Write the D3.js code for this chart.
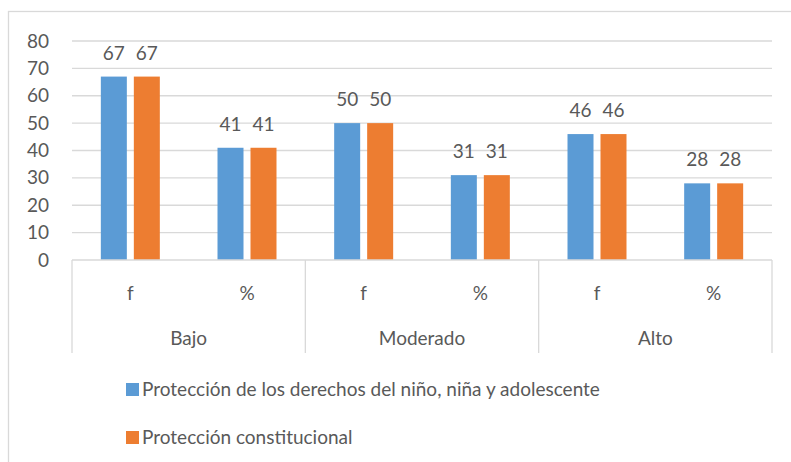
<!DOCTYPE html>
<html>
<head>
<meta charset="utf-8">
<script src="https://cdn.jsdelivr.net/npm/d3@7"></script>
<style>
  body { margin: 0; background: #fff; }
  svg text { font-family: Lato, "Open Sans", sans-serif; fill: #595959; }
</style>
</head>
<body>
<svg id="chart"></svg>
<script>
// data
const groups = ["Bajo", "Moderado", "Alto"];
const subs = ["f", "%"];
const seriesNames = ["Protección de los derechos del niño, niña y adolescente", "Protección constitucional"];
const derechos = [67, 41, 50, 31, 46, 28];      // f, % for each group
const constitucional = [67, 41, 50, 31, 46, 28];
const yTicks = [0, 10, 20, 30, 40, 50, 60, 70, 80];
const colors = ["#5b9bd5", "#ed7d31"];

const width = 791, height = 462;
const svg = d3.select("#chart").attr("width", width).attr("height", height);

// outer chart border (only top and left visible)
svg.append("rect")
    .attr("x", 8.5).attr("y", 11.5)
    .attr("width", 800).attr("height", 500)
    .attr("fill", "none").attr("stroke", "#d9d9d9").attr("stroke-width", 1.3);

const plot = { left: 72, right: 772, top: 41, bottom: 260 };

const y = d3.scaleLinear().domain([0, 80]).range([plot.bottom, plot.top]);
const x0 = d3.scaleBand().domain(groups).range([plot.left, plot.right]);
const x1 = d3.scaleBand().domain(subs).range([0, x0.bandwidth()]);
const x2 = d3.scaleBand().domain([0, 1]).range([0, x1.bandwidth()])
    .paddingInner(0.212).paddingOuter(0.874);

// gridlines
svg.append("g")
    .selectAll("line")
    .data(yTicks.filter(t => t > 0))
    .join("line")
    .attr("x1", plot.left).attr("x2", plot.right)
    .attr("y1", d => y(d)).attr("y2", d => y(d))
    .attr("stroke", "#d9d9d9").attr("stroke-width", 1.3);

// y axis labels
const yAxis = svg.append("g")
    .attr("transform", `translate(${plot.left},0)`)
    .call(d3.axisLeft(y).tickValues(yTicks).tickSize(0).tickPadding(23));
yAxis.select(".domain").remove();
yAxis.selectAll("text").style("font-size", "19px").attr("fill", "#595959");

// bars
const rows = [];
groups.forEach((g, gi) => {
    subs.forEach((s, si) => {
        const idx = gi * 2 + si;
        [derechos[idx], constitucional[idx]].forEach((v, k) => {
            rows.push({ g, s, k, v });
        });
    });
});

const bx = d => x0(d.g) + x1(d.s) + x2(d.k);

svg.append("g")
    .selectAll("rect")
    .data(rows)
    .join("rect")
    .attr("x", bx)
    .attr("y", d => y(d.v))
    .attr("width", x2.bandwidth())
    .attr("height", d => y(0) - y(d.v))
    .attr("fill", d => colors[d.k]);

// data labels
svg.append("g")
    .selectAll("text")
    .data(rows)
    .join("text")
    .attr("x", d => bx(d) + x2.bandwidth() / 2)
    .attr("y", d => y(d.v) - 17)
    .attr("text-anchor", "middle")
    .style("font-size", "19px")
    .text(d => d.v);

// category axis (two levels)
const axisG = svg.append("g").attr("stroke", "#d9d9d9").attr("stroke-width", 1.3);
axisG.append("line")
    .attr("x1", plot.left).attr("x2", plot.right)
    .attr("y1", plot.bottom).attr("y2", plot.bottom);
axisG.selectAll("line.sep")
    .data(groups.map(g => x0(g)).concat([plot.right]))
    .join("line")
    .attr("class", "sep")
    .attr("x1", d => d).attr("x2", d => d)
    .attr("y1", plot.bottom).attr("y2", 353);

const subRows = [];
groups.forEach(g => subs.forEach(s => subRows.push({ g, s })));
svg.append("g")
    .selectAll("text")
    .data(subRows)
    .join("text")
    .attr("x", d => x0(d.g) + x1(d.s) + x1.bandwidth() / 2)
    .attr("y", 300)
    .attr("text-anchor", "middle")
    .style("font-size", "19px")
    .text(d => d.s);

svg.append("g")
    .selectAll("text")
    .data(groups)
    .join("text")
    .attr("x", d => x0(d) + x0.bandwidth() / 2)
    .attr("y", 345)
    .attr("text-anchor", "middle")
    .style("font-size", "19px")
    .text(d => d);

// legend
const legend = svg.append("g")
    .selectAll("g")
    .data(seriesNames)
    .join("g")
    .attr("transform", (d, i) => `translate(126,${383 + i * 48})`);
legend.append("rect")
    .attr("width", 13).attr("height", 13)
    .attr("fill", (d, i) => colors[i]);
legend.append("text")
    .attr("x", 16).attr("y", 13)
    .style("font-size", "19px")
    .text(d => d);
</script>
</body>
</html>
